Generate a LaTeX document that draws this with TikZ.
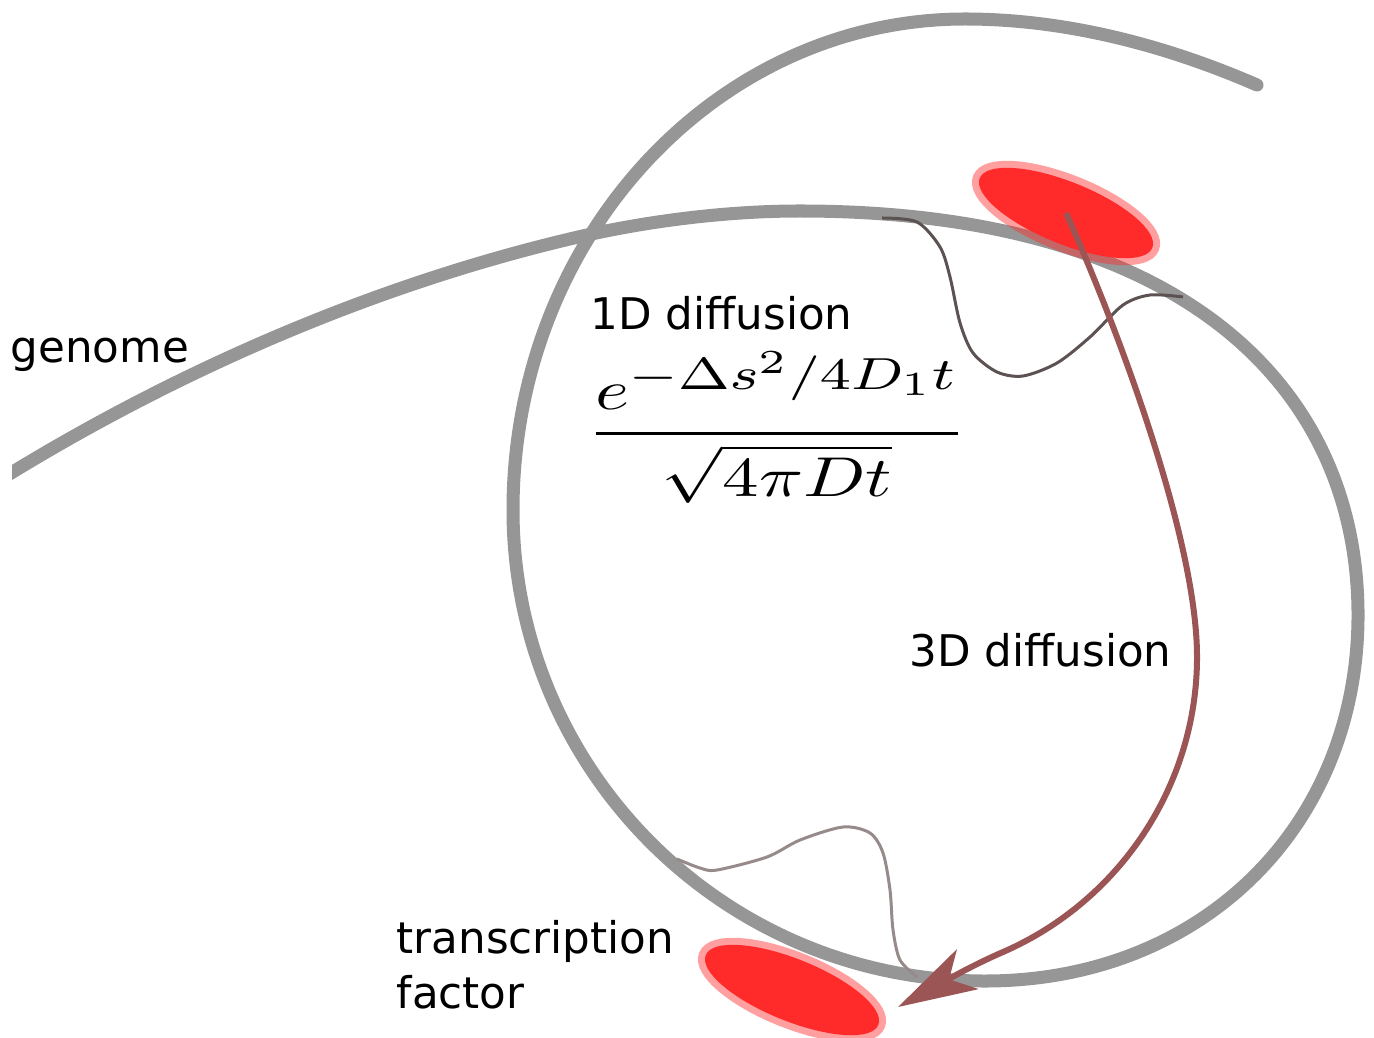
\documentclass[tikz,border=0pt]{standalone}
\usepackage[no-math]{fontspec}
\usepackage{amsmath}
\usepackage{graphicx}
\usetikzlibrary{arrows.meta,shapes.geometric}
\newfontfamily\labelfont{DejaVu Sans}
\DeclareMathSizes{10}{10}{8}{6}
\definecolor{genomegray}{RGB}{150,150,150}
\definecolor{tfred}{RGB}{255,42,42}
\definecolor{hopbrown}{RGB}{155,85,85}
\definecolor{slidedark}{RGB}{92,82,82}
\definecolor{slidelight}{RGB}{150,138,138}
\tikzset{
  genome/.style={genomegray, line width=0.13cm, line cap=round},
  tfblob/.style={ellipse, fill=tfred, draw=tfred, draw opacity=0.45,
    line width=0.14cm, minimum width=1.86cm, minimum height=0.62cm,
    inner sep=0pt, rotate=-22},
  slide/.style={line width=0.03cm},
  hop/.style={hopbrown, line width=0.06cm,
    -{Stealth[length=0.79cm, width=0.45cm, inset=0.21cm]}},
  lbl/.style={font=\labelfont\fontsize{12.4}{15.5}\selectfont, inner sep=0pt}
}
\begin{document}
\begin{tikzpicture}[x=0.01cm, y=-0.01cm]
  \useasboundingbox (0,0) rectangle (1374,1037);
  % ---------------- genome: one strand that loops round ----------------
  \begin{scope}
    \clip (12,0) rectangle (1374,1037);
    \draw[genome] (-10,486) .. controls (185,364) and (392,279) .. (587,235)
      .. controls (655,220) and (730,211) .. (800,211)
      .. controls (1180,211) and (1358,385) .. (1358,615)
      .. controls (1358,827) and (1201,981) .. (985,981)
      .. controls (724,981) and (513,770) .. (513,510)
      .. controls (513,239) and (715,19) .. (965,19)
      .. controls (1065,19) and (1165,45) .. (1257,85);
  \end{scope}
  % ---------------- transcription factors ----------------
  \foreach \nm/\pos in {tfTop/{(1066,213)}, tfBot/{(792,990)}}
    \node[tfblob] (\nm) at \pos {};
  \coordinate (tfTip) at (898,1007);
  % 1D sliding along the strand
  \draw[slide, slidedark] plot[smooth] coordinates {
    (882,218) (917,222) (940,247) (950,277) (960,323) (973,353) (997,372)
    (1023,376) (1057,363) (1090,337) (1123,305) (1150,295) (1183,297)};
  \draw[slide, slidelight] plot[smooth] coordinates {
    (677,859) (700,868) (717,870) (767,857) (800,840) (843,827) (870,833)
    (883,853) (890,890) (893,930) (900,960) (917,977)};
  % 3D hop through the nucleus
  \draw[hop] (tfTop.center) .. controls (1115,322) and (1197,537) .. (1197,657)
    .. controls (1197,785) and (1120,901) .. (1003,952)
    .. controls (966,968) and (933,988) .. (tfTip);
  % ---------------- labels ----------------
  \node[lbl, anchor=base west] (lblGenome) at (10,363) {genome};
  \node[lbl, anchor=base west] (lblOneD) at (590,330) {1D diffusion};
  \node[inner sep=0pt] (lblFormula) at (777,427.5)
    {\resizebox*{3.62cm}{1.51cm}{$\nulldelimiterspace=0pt\displaystyle
      \genfrac{}{}{0.55pt}{}{e^{-\Delta s^2/4D_1 t}}{\sqrt{4\pi D t}}$}};
  \node[lbl, anchor=base west] (lblThreeD) at (909,666) {3D diffusion};
  \node[lbl, anchor=north west, align=left] (lblTF) at (396,920)
    {transcription\\factor};
\end{tikzpicture}
\end{document}
